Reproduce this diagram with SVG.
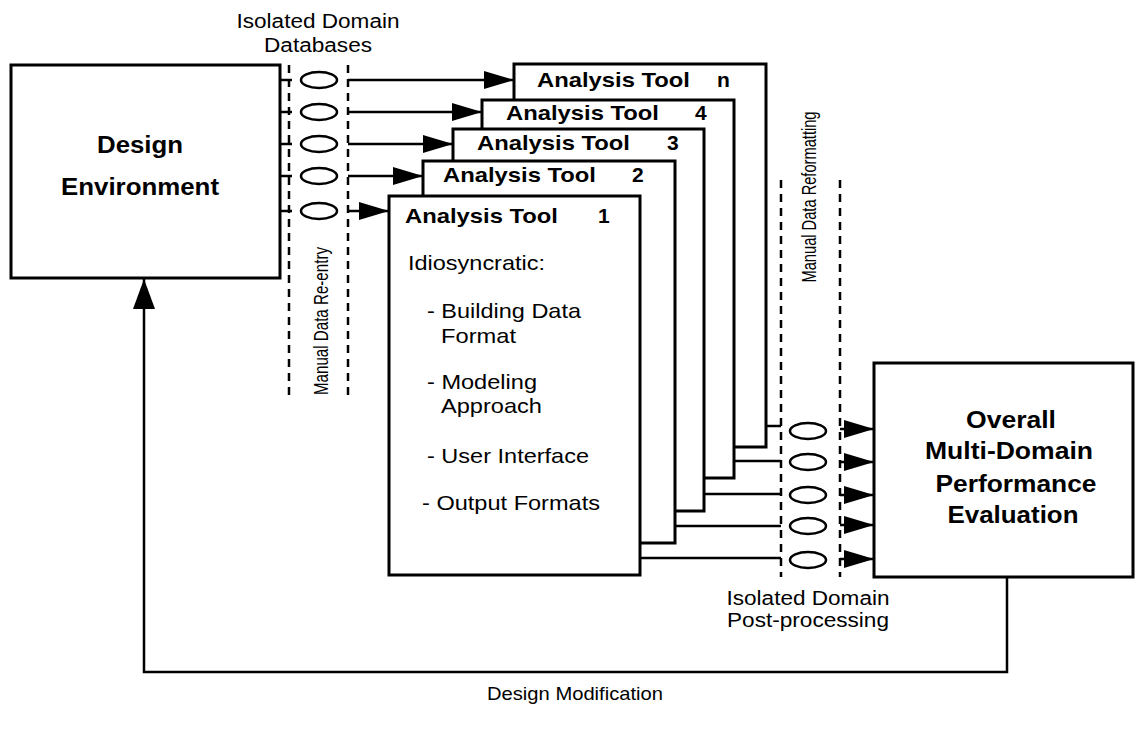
<svg xmlns="http://www.w3.org/2000/svg" width="1135" height="738" viewBox="0 0 1135 738">
<defs>
<style>
.box{fill:#fff;stroke:#000;stroke-width:3}
.ln{fill:none;stroke:#000;stroke-width:2.5}
.dash{fill:none;stroke:#000;stroke-width:2.5;stroke-dasharray:8 6}
.ell{fill:#fff;stroke:#000;stroke-width:2.5}
text{font-family:"Liberation Sans",Arial,Helvetica,sans-serif;fill:#000}
.b{font-weight:bold}
.hd{font-weight:bold;font-size:21px}
.bd{font-size:21px}
.lb{font-size:20px}
.vt{font-size:20px}
</style>
<marker id="ah" markerUnits="userSpaceOnUse" markerWidth="30" markerHeight="18" refX="30" refY="9" orient="auto">
<path d="M0,0 L30,9 L0,18 Z" fill="#000"/>
</marker>
<marker id="ahu" markerUnits="userSpaceOnUse" markerWidth="30" markerHeight="22" refX="30" refY="11" orient="auto">
<path d="M0,0 L30,11 L0,22 Z" fill="#000"/>
</marker>
</defs>
<rect width="1135" height="738" fill="#fff"/>

<g id="design-environment">
<rect class="box" x="11" y="65" width="269" height="213"/>
<text class="b" x="140" y="153" font-size="23" text-anchor="middle" textLength="86" lengthAdjust="spacingAndGlyphs">Design</text>
<text class="b" x="140" y="195" font-size="23" text-anchor="middle" textLength="158" lengthAdjust="spacingAndGlyphs">Environment</text>
</g>

<g id="databases">
<text class="lb" x="318" y="28" text-anchor="middle" textLength="163" lengthAdjust="spacingAndGlyphs">Isolated Domain</text>
<text class="lb" x="318" y="52" text-anchor="middle" textLength="108" lengthAdjust="spacingAndGlyphs">Databases</text>
<line class="dash" x1="289" y1="65" x2="289" y2="395"/>
<line class="dash" x1="348" y1="65" x2="348" y2="395"/>
<ellipse class="ell" cx="319" cy="80" rx="18" ry="8"/>
<ellipse class="ell" cx="319" cy="112" rx="18" ry="8"/>
<ellipse class="ell" cx="319" cy="144" rx="18" ry="8"/>
<ellipse class="ell" cx="319" cy="176" rx="18" ry="8"/>
<ellipse class="ell" cx="319" cy="211" rx="18" ry="8"/>
<text class="vt" transform="translate(328,321) rotate(-90)" text-anchor="middle" textLength="148" lengthAdjust="spacingAndGlyphs">Manual Data Re-entry</text>
</g>

<g id="tool-n">
<rect class="box" x="514" y="64" width="252" height="383"/>
<text class="hd" x="537" y="87" textLength="153" lengthAdjust="spacingAndGlyphs">Analysis Tool</text>
<text class="hd" x="717" y="87">n</text>
</g>
<g id="tool-4">
<rect class="box" x="482" y="100" width="252" height="378"/>
<text class="hd" x="506" y="120" textLength="153" lengthAdjust="spacingAndGlyphs">Analysis Tool</text>
<text class="hd" x="695" y="120">4</text>
</g>
<g id="tool-3">
<rect class="box" x="453" y="129" width="251" height="382"/>
<text class="hd" x="477" y="150" textLength="153" lengthAdjust="spacingAndGlyphs">Analysis Tool</text>
<text class="hd" x="667" y="150">3</text>
</g>
<g id="tool-2">
<rect class="box" x="423" y="161" width="252" height="382"/>
<text class="hd" x="443" y="182" textLength="153" lengthAdjust="spacingAndGlyphs">Analysis Tool</text>
<text class="hd" x="632" y="182">2</text>
</g>
<g id="tool-1">
<rect class="box" x="389" y="196" width="251" height="379"/>
<text class="hd" x="405" y="223" textLength="153" lengthAdjust="spacingAndGlyphs">Analysis Tool</text>
<text class="hd" x="598" y="223">1</text>
<text class="bd" x="408" y="270" textLength="137" lengthAdjust="spacingAndGlyphs">Idiosyncratic:</text>
<text class="bd" x="427" y="318" textLength="154" lengthAdjust="spacingAndGlyphs">- Building Data</text>
<text class="bd" x="441" y="343" textLength="75" lengthAdjust="spacingAndGlyphs">Format</text>
<text class="bd" x="427" y="389" textLength="110" lengthAdjust="spacingAndGlyphs">- Modeling</text>
<text class="bd" x="441" y="413" textLength="101" lengthAdjust="spacingAndGlyphs">Approach</text>
<text class="bd" x="427" y="463" textLength="162" lengthAdjust="spacingAndGlyphs">- User Interface</text>
<text class="bd" x="422" y="510" textLength="178" lengthAdjust="spacingAndGlyphs">- Output Formats</text>
</g>

<g id="post-processing">
<line class="dash" x1="781" y1="180" x2="781" y2="577"/>
<line class="dash" x1="840" y1="180" x2="840" y2="577"/>
<text class="vt" transform="translate(816,197) rotate(-90)" text-anchor="middle" textLength="171" lengthAdjust="spacingAndGlyphs">Manual Data Reformatting</text>
<ellipse class="ell" cx="808" cy="431" rx="18" ry="8"/>
<ellipse class="ell" cx="808" cy="462" rx="18" ry="8"/>
<ellipse class="ell" cx="808" cy="495" rx="18" ry="8"/>
<ellipse class="ell" cx="808" cy="526" rx="18" ry="8"/>
<ellipse class="ell" cx="808" cy="560" rx="18" ry="8"/>
<text class="lb" x="808" y="605" text-anchor="middle" textLength="163" lengthAdjust="spacingAndGlyphs">Isolated Domain</text>
<text class="lb" x="808" y="627" text-anchor="middle" textLength="162" lengthAdjust="spacingAndGlyphs">Post-processing</text>
</g>

<g id="overall-evaluation">
<rect class="box" x="874" y="363" width="259" height="214"/>
<text class="b" x="1011" y="428" font-size="24" text-anchor="middle" textLength="90" lengthAdjust="spacingAndGlyphs">Overall</text>
<text class="b" x="1009" y="459" font-size="24" text-anchor="middle" textLength="168" lengthAdjust="spacingAndGlyphs">Multi-Domain</text>
<text class="b" x="1016" y="492" font-size="24" text-anchor="middle" textLength="161" lengthAdjust="spacingAndGlyphs">Performance</text>
<text class="b" x="1013" y="523" font-size="24" text-anchor="middle" textLength="131" lengthAdjust="spacingAndGlyphs">Evaluation</text>
</g>

<g id="connectors">
<line class="ln" x1="280" y1="80" x2="292" y2="80"/>
<line class="ln" x1="280" y1="112" x2="292" y2="112"/>
<line class="ln" x1="280" y1="144" x2="292" y2="144"/>
<line class="ln" x1="280" y1="176" x2="292" y2="176"/>
<line class="ln" x1="280" y1="211" x2="292" y2="211"/>
<line class="ln" x1="348" y1="80" x2="514" y2="80" marker-end="url(#ah)"/>
<line class="ln" x1="348" y1="112" x2="482" y2="112" marker-end="url(#ah)"/>
<line class="ln" x1="348" y1="144" x2="453" y2="144" marker-end="url(#ah)"/>
<line class="ln" x1="348" y1="176" x2="423" y2="176" marker-end="url(#ah)"/>
<line class="ln" x1="348" y1="211" x2="389" y2="211" marker-end="url(#ah)"/>
<line class="ln" x1="766" y1="426" x2="781" y2="426"/>
<line class="ln" x1="734" y1="461" x2="781" y2="461"/>
<line class="ln" x1="704" y1="494" x2="781" y2="494"/>
<line class="ln" x1="675" y1="526" x2="781" y2="526"/>
<line class="ln" x1="640" y1="558" x2="781" y2="558"/>
<line class="ln" x1="840" y1="429" x2="874" y2="429" marker-end="url(#ah)"/>
<line class="ln" x1="840" y1="462" x2="874" y2="462" marker-end="url(#ah)"/>
<line class="ln" x1="840" y1="495" x2="874" y2="495" marker-end="url(#ah)"/>
<line class="ln" x1="840" y1="525" x2="874" y2="525" marker-end="url(#ah)"/>
<line class="ln" x1="840" y1="559" x2="874" y2="559" marker-end="url(#ah)"/>
<path class="ln" d="M1007,577 V672 H144 V279" marker-end="url(#ahu)"/>
<text x="575" y="700" font-size="19" text-anchor="middle" textLength="176" lengthAdjust="spacingAndGlyphs">Design Modification</text>
</g>
</svg>
